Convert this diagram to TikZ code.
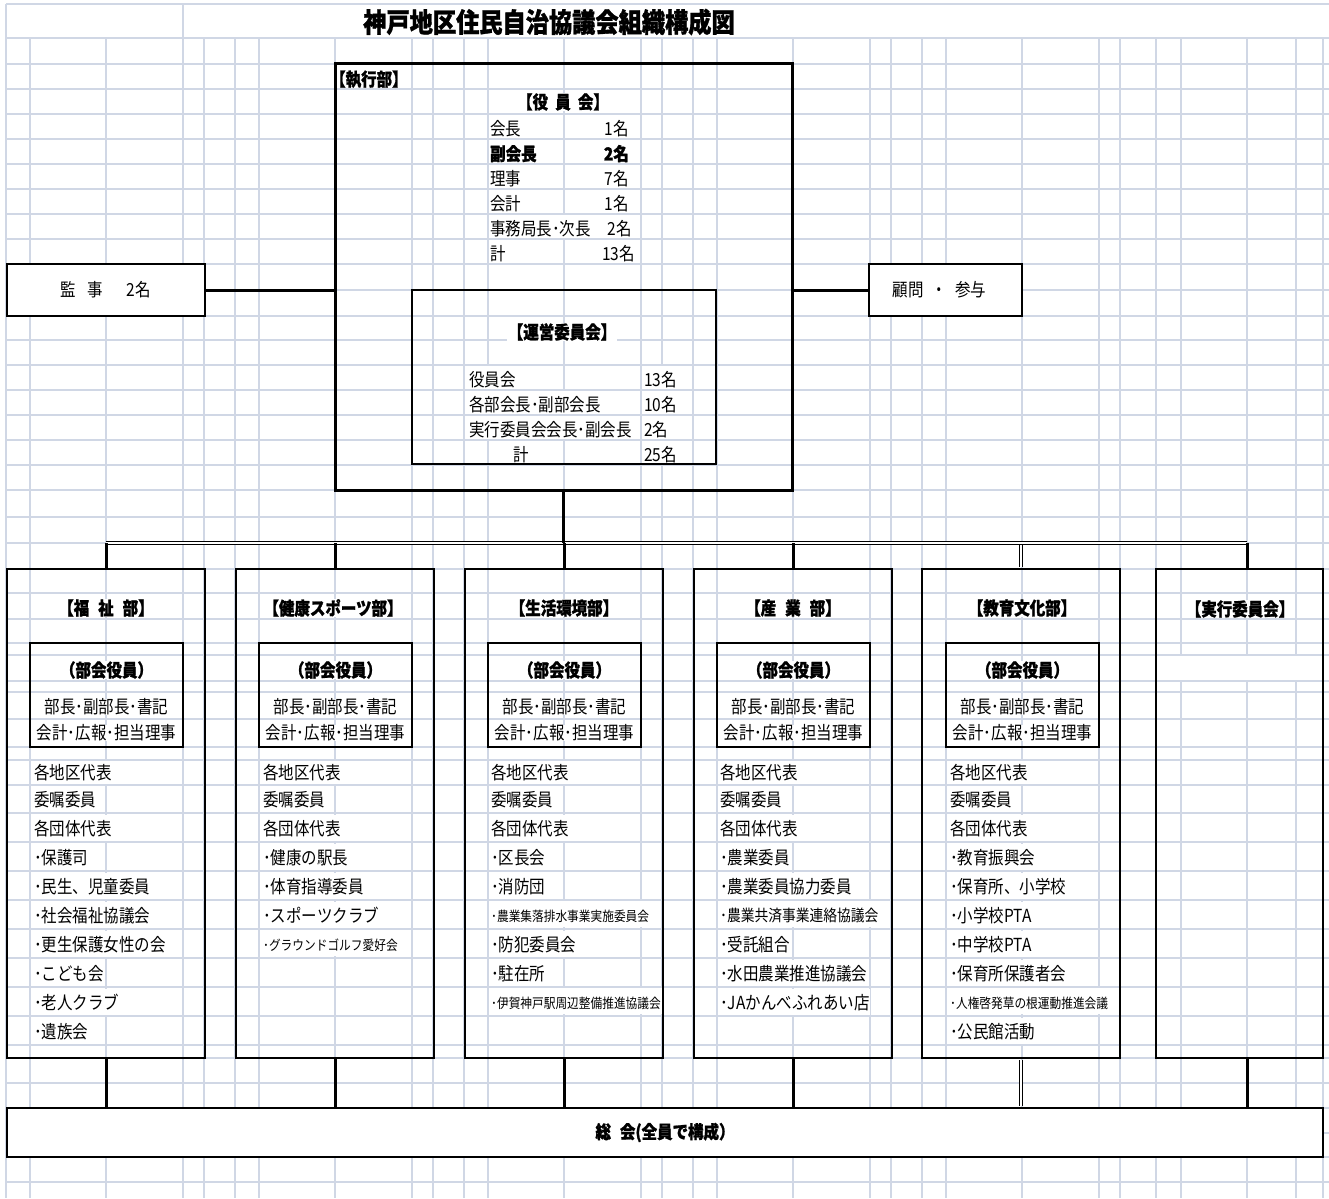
\documentclass[tikz,border=0pt]{standalone}
\usepackage{fontspec}
\setmainfont{Noto Sans CJK JP}[FakeStretch=0.86, BoldFeatures={FakeBold=1.2}]
\definecolor{gridc}{RGB}{208,215,229}
\newcommand\myN{\fontsize{18}{20}\selectfont}
\newcommand\myB{\fontsize{18}{20}\selectfont\bfseries}
\newcommand\myS{\fontsize{13.6}{15}\selectfont}
\newcommand\myM{\fontsize{16}{18}\selectfont}
\newcommand\myT{\fontsize{27}{30}\selectfont\bfseries}
\begin{document}
\begin{tikzpicture}[x=1pt,y=-1pt,
 gridl/.style={draw=gridc, line width=1.2pt},
 tx/.style={fill=white, inner xsep=1pt, inner ysep=0pt, font=\myN},
 lt/.style={tx, anchor=base west, text height=20.5pt, text depth=2.5pt},
 rt/.style={tx, anchor=base east, text height=20.5pt, text depth=2.5pt},
 li/.style={tx, anchor=base west, text height=20.5pt, text depth=5.5pt},
 lione/.style={li, text height=18.5pt, text depth=4.5pt},
 hd/.style={tx, font=\myB},
 bxA/.style={draw, line width=3pt, inner sep=0pt},
 bxB/.style={draw, line width=2pt, inner sep=0pt},
 mrg/.style={bxB, fill=white, font=\myN},
 cn/.style={line width=3pt},
 dcn/.style={double, line width=1.2pt, double distance=1.2pt},
]
\useasboundingbox (0,0) rectangle (1329,1198);
\fill[white] (0,0) rectangle (1329,1198);
% grid
\foreach \x in {6,30,106,183,204,235,259,335,412,433,464,488,564,641,662,693,717,793,870,891,922,946,1022,1099,1120,1156,1181,1247,1296,1323}
  \draw[gridl] (\x,4) -- (\x,1198);
\foreach \y in {4,38,64,89,114,139,164,189,214,239,264,290,316,340,365,390,415,440,465,490,517,543,569,593,619,643,655,681,692,719,747,760,785,813,842,871,900,929,958,987,1016,1045,1058,1083,1108,1133,1157,1182}
  \draw[gridl] (6,\y) -- (1329,\y);
\fill[white] (6.6,4.6) rectangle (1328.5,37.4);
\draw[gridl] (183,4) -- (183,38);
\fill[white] (1157,655.6) rectangle (1322.4,680.4);

% title
\node[hd, font=\myT] (ttl) at (549,22) {神戸地区住民自治協議会組織構成図};

% merged boxes
\node[mrg, minimum width=198, minimum height=52] (kanji) at (106,290) {監\hspace{11pt}事\hspace{24pt}2名};
\node[mrg, minimum width=153, minimum height=52] (komon) at (945.5,290) {};
\node[tx] (komont) at (939.5,290) {顧問\hspace{8pt}・\hspace{8pt}参与};
\node[mrg, font=\myB, minimum width=1316, minimum height=49] (sokai) at (665,1132.5) {総\hspace{.5em}会(全員で構成）};

% executive
\node[hd, anchor=base west, text height=20pt, text depth=2pt] (shikko) at (329,86) {【執行部】};
\node[hd] (yakuin) at (563,102) {【役\hspace{.4em}員\hspace{.4em}会】};
\node[lt] (y1) at (489,135.5) {会長};
\node[rt] (y1n) at (630,135.5) {1名};
\node[lt, font=\myB] (y2) at (489,160.5) {副会長};
\node[rt, font=\myB] (y2n) at (630,160.5) {2名};
\node[lt] (y3) at (489,185.5) {理事};
\node[rt] (y3n) at (630,185.5) {7名};
\node[lt] (y4) at (489,210.5) {会計};
\node[rt] (y4n) at (630,210.5) {1名};
\node[lt] (y5) at (489,235.5) {事務局長･次長};
\node[rt] (y5n) at (633,235.5) {2名};
\node[lt] (y6) at (489,260.5) {計};
\node[rt] (y6n) at (636,260.5) {13名};

\node[hd] (uneih) at (562,332) {【運営委員会】};
\node[lt] (u1) at (468,386.5) {役員会};
\node[lt] (u1n) at (643,386.5) {13名};
\node[lt] (u2) at (468,411.5) {各部会長･副部会長};
\node[lt] (u2n) at (643,411.5) {10名};
\node[lt] (u3) at (468,436.5) {実行委員会会長･副会長};
\node[lt] (u3n) at (643,436.5) {2名};
\node[lt] (u4) at (512,461.5) {計};
\node[lt] (u4n) at (643,461.5) {25名};

% department headers
\node[hd] (h1) at (106,608) {【福\hspace{.5em}祉\hspace{.5em}部】};
\node[hd] (h2) at (333,608) {【健康スポーツ部】};
\node[hd] (h3) at (564,608) {【生活環境部】};
\node[hd] (h4) at (793,608) {【産\hspace{.5em}業\hspace{.5em}部】};
\node[hd] (h5) at (1022,608) {【教育文化部】};
\node[hd] (h6) at (1240,609) {【実行委員会】};

% inner box texts
\foreach \cx/\nm in {106.5/a,335.5/b,564.5/c,793.5/d,1022.5/e}{
  \node[hd] (p\nm) at (\cx,670) {（部会役員）};
  \node[tx] (q\nm) at (\cx,707) {部長･副部長･書記};
  \node[tx] (r\nm) at (\cx,733) {会計･広報･担当理事};
}

% lists
\node[lione] (f1) at (33,779.5) {各地区代表};
\node[li] (f2) at (33,806.5) {委嘱委員};
\node[li] (f3) at (33,835.5) {各団体代表};
\node[li] (f4) at (33,864.5) {･保護司};
\node[li] (f5) at (33,893.5) {･民生、児童委員};
\node[li] (f6) at (33,922.5) {･社会福祉協議会};
\node[li] (f7) at (33,951.5) {･更生保護女性の会};
\node[li] (f8) at (33,980.5) {･こども会};
\node[li] (f9) at (33,1009.5) {･老人クラブ};
\node[li] (f10) at (33,1038.5) {･遺族会};

\node[lione] (k1) at (262,779.5) {各地区代表};
\node[li] (k2) at (262,806.5) {委嘱委員};
\node[li] (k3) at (262,835.5) {各団体代表};
\node[li] (k4) at (262,864.5) {･健康の駅長};
\node[li] (k5) at (262,893.5) {･体育指導委員};
\node[li] (k6) at (262,922.5) {･スポーツクラブ};
\node[li, font=\myS] (k7) at (262,950) {･グラウンドゴルフ愛好会};

\node[lione] (s1) at (490,779.5) {各地区代表};
\node[li] (s2) at (490,806.5) {委嘱委員};
\node[li] (s3) at (490,835.5) {各団体代表};
\node[li] (s4) at (490,864.5) {･区長会};
\node[li] (s5) at (490,893.5) {･消防団};
\node[li, font=\myS] (s6) at (490,921) {･農業集落排水事業実施委員会};
\node[li] (s7) at (490,951.5) {･防犯委員会};
\node[li] (s8) at (490,980.5) {･駐在所};
\node[li, font=\myS] (s9) at (490,1008) {･伊賀神戸駅周辺整備推進協議会};

\node[lione] (g1) at (719,779.5) {各地区代表};
\node[li] (g2) at (719,806.5) {委嘱委員};
\node[li] (g3) at (719,835.5) {各団体代表};
\node[li] (g4) at (719,864.5) {･農業委員};
\node[li] (g5) at (719,893.5) {･農業委員協力委員};
\node[li, font=\myM] (g6) at (719,921.5) {･農業共済事業連絡協議会};
\node[li] (g7) at (719,951.5) {･受託組合};
\node[li] (g8) at (719,980.5) {･水田農業推進協議会};
\node[li] (g9) at (719,1009.5) {･JAかんべふれあい店};

\node[lione] (e1) at (949,779.5) {各地区代表};
\node[li] (e2) at (949,806.5) {委嘱委員};
\node[li] (e3) at (949,835.5) {各団体代表};
\node[li] (e4) at (949,864.5) {･教育振興会};
\node[li] (e5) at (949,893.5) {･保育所、小学校};
\node[li] (e6) at (949,922.5) {･小学校PTA};
\node[li] (e7) at (949,951.5) {･中学校PTA};
\node[li] (e8) at (949,980.5) {･保育所保護者会};
\node[li, font=\myS] (e9) at (949,1008) {･人権啓発草の根運動推進会議};
\node[li] (e10) at (949,1038.5) {･公民館活動};

% boxes
\node[bxA, minimum width=457, minimum height=426] (exec) at (563.5,277) {};
\node[bxB, minimum width=304, minimum height=174] (unei) at (564,377) {};
\node[bxB, minimum width=198, minimum height=489] (d1) at (106,813.5) {};
\node[bxB, minimum width=198, minimum height=489] (d2) at (335,813.5) {};
\node[bxB, minimum width=198, minimum height=489] (d3) at (564,813.5) {};
\node[bxB, minimum width=198, minimum height=489] (d4) at (793,813.5) {};
\node[bxB, minimum width=198, minimum height=489] (d5) at (1021,813.5) {};
\node[bxB, minimum width=167, minimum height=489] (d6) at (1239.5,813.5) {};
\node[bxB, minimum width=153, minimum height=104] (i1) at (106.5,695) {};
\node[bxB, minimum width=153, minimum height=104] (i2) at (335.5,695) {};
\node[bxB, minimum width=153, minimum height=104] (i3) at (564.5,695) {};
\node[bxB, minimum width=153, minimum height=104] (i4) at (793.5,695) {};
\node[bxB, minimum width=153, minimum height=104] (i5) at (1022.5,695) {};

% connectors
\coordinate (busL) at (106,543);
\coordinate (busR) at (1247,543);
\draw[cn] (kanji.east) -- (kanji.east -| exec.west);
\draw[cn] (komon.west -| exec.east) -- (komon.west);
\draw[dcn] (busL) -- (busR);
\draw[cn] (exec.south) -- (exec.south |- busL);
\foreach \d in {d1,d2,d3,d4}{
  \draw[cn] (\d.north |- busL) -- (\d.north);
  \draw[cn] (\d.south) -- (\d.south |- sokai.north);
}
\draw[dcn, shorten <=1.8pt, shorten >=1pt] (d5.north |- busL) -- (d5.north);
\draw[dcn, shorten <=1pt, shorten >=1pt] (d5.south) -- (d5.south |- sokai.north);
\draw[cn] (busR) -- (busR |- d6.north);
\draw[cn] (busR |- d6.south) -- (busR |- sokai.north);
\end{tikzpicture}
\end{document}
